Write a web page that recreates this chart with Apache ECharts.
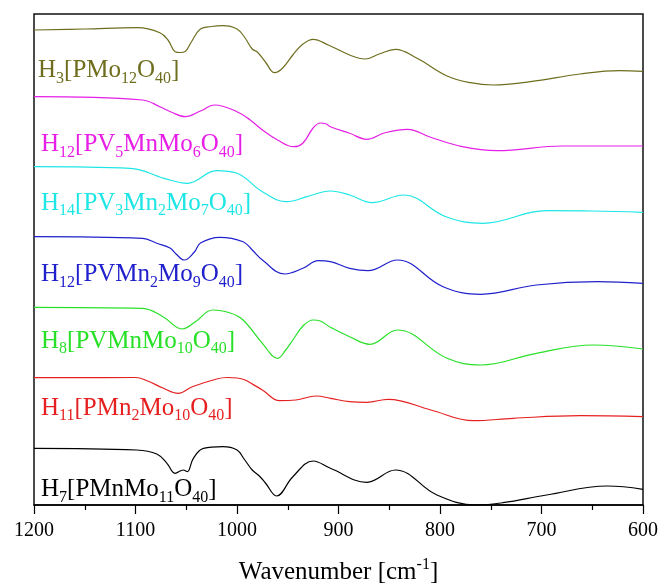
<!DOCTYPE html>
<html>
<head>
<meta charset="utf-8">
<script src="https://cdn.jsdelivr.net/npm/echarts@6/dist/echarts.min.js"></script>
<style>
    html, body { margin: 0; padding: 0; background: #fff; }
    #main { width: 659px; height: 585px; }
</style>
</head>
<body>
<div id="main"></div>
<script>
// 各样品的红外光谱 [波数, 强度(任意单位, 已叠加偏移)]
const h3Mo12 = [[1200, 475], [1150, 476], [1098, 477.3], [1076, 472.3], [1068, 465], [1061, 453.3], [1056, 452.5], [1051, 453.5], [1045, 463], [1036, 476], [1025, 478.5], [1014, 479.3], [1000, 476], [992, 467], [985, 456], [980, 453], [972, 443], [963, 432.3], [955, 437], [945, 450], [935, 461], [925, 465.7], [910, 460], [889, 450], [874, 446], [860, 451], [844, 455.7], [823, 447], [793, 429], [770, 422.3], [748, 420], [711, 423.3], [662, 431], [623, 434.3], [600, 433.7]]
const h12V5Mn = [[1200, 408.3], [1093, 405], [1076, 398.3], [1065, 393], [1051, 388.3], [1036, 394], [1022, 400], [1000, 393.3], [987, 385], [975, 375], [960, 365], [944, 358.3], [935, 362], [925, 377], [918, 382], [912, 381], [908, 378.3], [889, 371.7], [872, 365.7], [855, 372], [832, 375.7], [810, 368], [778, 358.3], [744, 354.3], [679, 359], [600, 359]]
const h14V3Mn2 = [[1200, 338.3], [1105, 336.7], [1072, 326.7], [1049, 321.7], [1020, 334.3], [1000, 331.7], [975, 313.3], [951, 303.3], [931, 308.3], [908, 314], [889, 310], [867, 302.3], [836, 310], [794, 288.3], [758, 281.7], [695, 294.3], [650, 294], [600, 292.7]]
const h12VMn2 = [[1200, 268.3], [1093, 266.7], [1079, 261.7], [1066, 257], [1060, 251], [1052, 245], [1042, 253], [1036, 262], [1017, 267.7], [994, 263.3], [985, 255], [975, 245], [953, 231], [935, 236.7], [920, 244.3], [908, 243.3], [889, 236.7], [871, 234.3], [842, 245], [797, 218.3], [760, 210.7], [705, 220], [645, 223.3], [600, 221.7]]
const h8VMn = [[1200, 197.7], [1093, 196.7], [1073, 188.3], [1054, 176], [1041, 183.3], [1024, 195], [1006, 191.7], [994, 185], [975, 161.7], [960, 146.7], [952, 155], [945, 165], [935, 179], [925, 185], [918, 184], [908, 177.7], [889, 168.3], [869, 160.7], [842, 175], [793, 146.7], [760, 140], [705, 151.7], [649, 160], [600, 156]]
const h11Mn2 = [[1200, 127.3], [1100, 127.5], [1088, 124], [1073, 117], [1058, 111.7], [1044, 118.3], [1020, 126], [1010, 127.5], [1000, 127], [992, 125], [985, 121], [975, 115], [958, 104.3], [942, 105], [922, 109], [908, 106.7], [889, 103.3], [872, 102.7], [851, 105.7], [809, 95], [767, 84.3], [728, 86.7], [662, 89.3], [600, 88.3]]
const h7Mn = [[1200, 56.7], [1099, 55], [1079, 51], [1069, 41.7], [1061, 31.7], [1053, 35], [1049, 33.3], [1043, 46.7], [1033, 56.7], [1014, 58.3], [1000, 55], [993, 46], [985, 35], [978, 29], [972, 22], [961, 9], [945, 28.3], [925, 44], [908, 36.7], [872, 22.7], [844, 35], [803, 10], [764, 0], [738, 2.3], [695, 10], [635, 19], [600, 15.7]]

// 名称, 下标用 _数字 表示
const names = ['H_3[PMo_12O_40]', 'H_12[PV_5MnMo_6O_40]', 'H_14[PV_3Mn_2Mo_7O_40]', 'H_12[PVMn_2Mo_9O_40]', 'H_8[PVMnMo_10O_40]', 'H_11[PMn_2Mo_10O_40]', 'H_7[PMnMo_11O_40]']
const spectra = [h3Mo12, h12V5Mn, h14V3Mn2, h12VMn2, h8VMn, h11Mn2, h7Mn]
const colors = ['#6e6e1e', '#e61ee6', '#1ee6e6', '#2020cc', '#28e028', '#e62020', '#000000']
// 标签位置 (像素)
const labelPos = [[38, 54.5], [41, 128.5], [41, 187], [41, 258.5], [41, 325], [41, 392], [41, 473.5]]

const FONT = 'Liberation Serif, Times New Roman, serif'

function toRich(name) {
    return '{m|' + name.replace(/_(\d+)/g, '}{s|$1}{m|') + '}'
}

var myChart = echarts.init(document.getElementById('main'))

var option = {
    animation: false,
    grid: {
        left: 34,
        right: 16,
        top: 14,
        bottom: 80,
        outerBoundsMode: 'none',
        containLabel: false,
        show: true,
        borderColor: '#111',
        borderWidth: 1.5
    },
    xAxis: {
        type: 'value',
        min: 600,
        max: 1200,
        interval: 100,
        inverse: true,
        splitLine: { show: false },
        axisLine: { lineStyle: { color: '#000', width: 1.5 } },
        axisTick: { length: 9, lineStyle: { color: '#000', width: 1.2 } },
        minorTick: { show: true, splitNumber: 2, length: 5, lineStyle: { color: '#000', width: 1.2 } },
        axisLabel: { color: '#000', fontSize: 20, fontFamily: FONT, margin: 16, formatter: v => String(v) },
        name: '{t|Wavenumber [cm}{u|-1}{t|]}',
        nameLocation: 'middle',
        nameGap: 52,
        nameTextStyle: {
            rich: {
                t: { fontSize: 25, fontFamily: FONT, color: '#000', lineHeight: 30 },
                u: { fontSize: 16, fontFamily: FONT, color: '#000', lineHeight: 16, verticalAlign: 'top' }
            }
        }
    },
    yAxis: {
        type: 'value',
        min: 0,
        max: 491,
        show: false
    },
    series: spectra.map((d, i) => ({
        type: 'line',
        data: d,
        smooth: 0.4,
        showSymbol: false,
        lineStyle: { color: colors[i], width: 1.2 }
    })),
    graphic: names.map((n, i) => ({
        type: 'text',
        x: labelPos[i][0],
        y: labelPos[i][1],
        style: {
            text: toRich(n),
            fill: colors[i],
            verticalAlign: 'top',
            rich: {
                m: { fontSize: 25, fontFamily: FONT, lineHeight: 32 },
                s: { fontSize: 16, fontFamily: FONT, lineHeight: 16, verticalAlign: 'bottom' }
            }
        }
    }))
}

myChart.setOption(option)
</script>
</body>
</html>
